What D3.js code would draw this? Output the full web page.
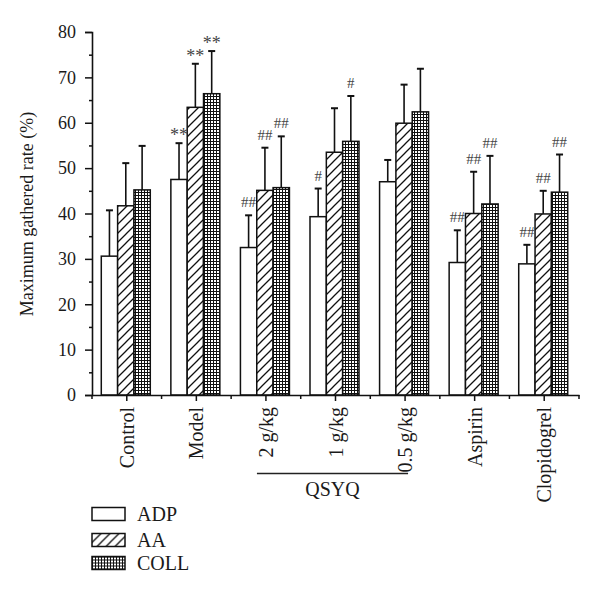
<!DOCTYPE html>
<html>
<head>
<meta charset="utf-8">
<script src="https://cdn.jsdelivr.net/npm/d3@7/dist/d3.min.js"></script>
<style>
  body { margin: 0; background: #fff; }
  svg { display: block; }
  text { font-family: "Liberation Serif", "Times New Roman", serif; fill: #1a1a1a; }
</style>
</head>
<body>
<div id="chart"></div>
<script>
const categories = ["Control", "Model", "2 g/kg", "1 g/kg", "0.5 g/kg", "Aspirin", "Clopidogrel"];
const series = ["ADP", "AA", "COLL"];
const adpMean = [30.6, 47.5, 32.5, 39.3, 47.0, 29.2, 28.9];
const adpErr  = [10.1, 8.0, 7.1, 6.2, 4.8, 7.1, 4.2];
const aaMean  = [41.7, 63.4, 45.1, 53.5, 59.9, 40.0, 39.9];
const aaErr   = [9.4, 9.6, 9.4, 9.7, 8.5, 9.2, 5.1];
const collMean = [45.2, 66.4, 45.7, 55.9, 62.4, 42.1, 44.7];
const collErr  = [9.7, 9.4, 11.3, 10.0, 9.5, 10.6, 8.3];
const adpMark  = ["", "**", "##", "#", "", "##", "##"];
const aaMark   = ["", "**", "##", "", "", "##", "##"];
const collMark = ["", "**", "##", "#", "", "##", "##"];
const yTicks = [0, 10, 20, 30, 40, 50, 60, 70, 80];
const yMinorTicks = [5, 15, 25, 35, 45, 55, 65, 75];
const groupLabel = "QSYQ";
const groupMembers = ["2 g/kg", "0.5 g/kg"];
const yTitle = "Maximum gathered rate (%)";

const W = 600, H = 596;
const svg = d3.select("#chart").append("svg").attr("width", W).attr("height", H);

const defs = svg.append("defs");
const hatch = defs.append("pattern").attr("id", "hatch").attr("patternUnits", "userSpaceOnUse")
  .attr("width", 9).attr("height", 9);
hatch.append("rect").attr("width", 9).attr("height", 9).attr("fill", "#fff");
hatch.append("path").attr("d", "M-2,2 L2,-2 M0,9 L9,0 M7,11 L11,7")
  .attr("stroke", "#111").attr("stroke-width", 1.3);
const grid = defs.append("pattern").attr("id", "grid").attr("patternUnits", "userSpaceOnUse")
  .attr("width", 3).attr("height", 3);
grid.append("rect").attr("width", 3).attr("height", 3).attr("fill", "#111");
grid.append("rect").attr("x", 1).attr("y", 1).attr("width", 2).attr("height", 2).attr("fill", "#fff");
const fills = { ADP: "#fff", AA: "url(#hatch)", COLL: "url(#grid)" };

const x0 = d3.scaleBand().domain(categories).range([92, 579]).paddingInner(0).paddingOuter(0);
const x1 = d3.scaleBand().domain(series).range([0, x0.bandwidth()]).paddingInner(0).paddingOuter(0.63);
const y = d3.scaleLinear().domain([0, 80]).range([395, 32]);

const data = {
  ADP: categories.map((c, i) => ({ c, s: "ADP", v: adpMean[i], e: adpErr[i], m: adpMark[i] })),
  AA: categories.map((c, i) => ({ c, s: "AA", v: aaMean[i], e: aaErr[i], m: aaMark[i] })),
  COLL: categories.map((c, i) => ({ c, s: "COLL", v: collMean[i], e: collErr[i], m: collMark[i] }))
};
const all = series.flatMap(s => data[s]);
const cx = d => x0(d.c) + x1(d.s) + x1.bandwidth() / 2 - 1;

// error bars (upper half)
const eb = svg.append("g").attr("stroke", "#111");
eb.selectAll("line.v").data(all).join("line")
  .attr("x1", cx).attr("x2", cx)
  .attr("y1", d => y(d.v)).attr("y2", d => y(d.v + d.e)).attr("stroke-width", 1.6);
eb.selectAll("line.c").data(all).join("line")
  .attr("x1", d => cx(d) - 3.5).attr("x2", d => cx(d) + 3.5)
  .attr("y1", d => y(d.v + d.e)).attr("y2", d => y(d.v + d.e)).attr("stroke-width", 2);

// bars
svg.append("g").selectAll("rect").data(all).join("rect")
  .attr("x", d => x0(d.c) + x1(d.s) - 1)
  .attr("y", d => y(d.v))
  .attr("width", x1.bandwidth())
  .attr("height", d => y(0) - y(d.v))
  .attr("fill", d => fills[d.s])
  .attr("stroke", "#111").attr("stroke-width", 1.5);

// annotations
svg.append("g").selectAll("text").data(all.filter(d => d.m)).join("text")
  .attr("x", cx)
  .attr("y", d => y(d.v + d.e) - (d.m[0] === "*" ? 2 : 8))
  .attr("text-anchor", "middle")
  .attr("font-size", d => d.m[0] === "*" ? 18 : 15)
  .style("fill", "#444")
  .text(d => d.m);

// y axis
const yAxis = svg.append("g").attr("transform", "translate(92,0)")
  .call(d3.axisLeft(y).tickValues(yTicks).tickSize(7).tickPadding(9).tickFormat(d3.format("d")));
svg.append("g").attr("transform", "translate(92,0)")
  .call(d3.axisLeft(y).tickValues(yMinorTicks).tickSize(3).tickFormat(""))
  .select(".domain").remove();
yAxis.selectAll("text").attr("font-size", 18).style("font-family", "Liberation Serif");

// x axis
const xAxis = svg.append("g").attr("transform", "translate(0,395)")
  .call(d3.axisBottom(x0).tickSize(6).tickSizeOuter(0));
xAxis.selectAll("text")
  .attr("font-size", 20).style("font-family", "Liberation Serif")
  .attr("text-anchor", "end")
  .attr("transform", "rotate(-90)")
  .attr("x", -12).attr("y", 0).attr("dy", "0.35em");
const bounds = categories.map(c => x0(c)).concat([x0(categories[categories.length - 1]) + x0.step()]);
svg.append("g").selectAll("line").data(bounds).join("line")
  .attr("x1", d => d).attr("x2", d => d).attr("y1", 395).attr("y2", 399)
  .attr("stroke", "#111").attr("stroke-width", 1.5);

svg.selectAll(".domain").attr("stroke", "#111").attr("stroke-width", 1.6);
svg.selectAll(".tick line").attr("stroke", "#111").attr("stroke-width", 1.5);

// group label
const gx1 = x0(groupMembers[0]) + x0.bandwidth() / 2 - 9;
const gx2 = x0(groupMembers[1]) + x0.bandwidth() / 2 + 3;
svg.append("line").attr("x1", gx1).attr("x2", gx2).attr("y1", 473.5).attr("y2", 473.5)
  .attr("stroke", "#222").attr("stroke-width", 1.5);
svg.append("text").attr("x", (gx1 + gx2) / 2).attr("y", 496)
  .attr("text-anchor", "middle").attr("font-size", 20).text(groupLabel);

// y title
svg.append("text").attr("transform", "translate(33,214) rotate(-90)")
  .attr("text-anchor", "middle").attr("font-size", 18).text(yTitle);

// legend
const lg = svg.append("g").selectAll("g").data(series).join("g")
  .attr("transform", (d, i) => `translate(92,${[507.5, 533.5, 556.5][i]})`);
lg.append("rect").attr("width", 33).attr("height", 13)
  .attr("fill", d => fills[d]).attr("stroke", "#111").attr("stroke-width", 1.5);
lg.append("text").attr("x", 45).attr("y", 13).attr("font-size", 20).text(d => d);
</script>
</body>
</html>
